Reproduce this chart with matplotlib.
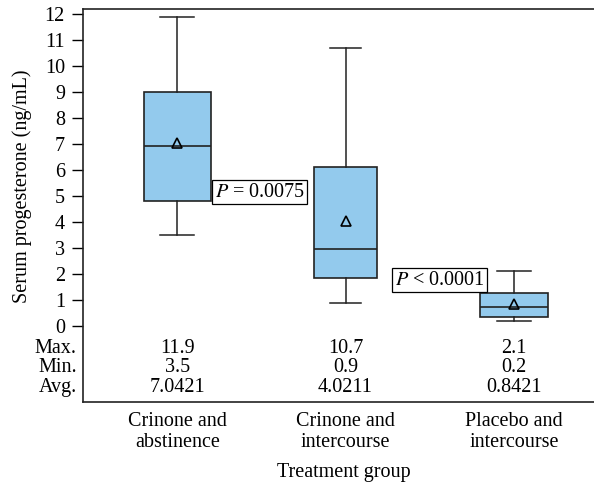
import numpy as np
import matplotlib
matplotlib.use("Agg")
import matplotlib.pyplot as plt

plt.rcParams["font.family"] = ["Liberation Serif", "DejaVu Serif"]
plt.rcParams["mathtext.fontset"] = "stix"

# ── data ───────────────────────────────────────────────────────────────────
GROUPS   = ["Crinone and\nabstinence", "Crinone and\nintercourse", "Placebo and\nintercourse"]
WHISLO   = [3.5, 0.9, 0.2]
Q1       = [4.8, 1.83, 0.35]
MEDIAN   = [6.93, 2.95, 0.72]
Q3       = [9.0, 6.1, 1.27]
WHISHI   = [11.9, 10.7, 2.1]
AVG      = [7.0421, 4.0211, 0.8421]
P_LABELS = ["$P$ = 0.0075", "$P$ < 0.0001"]
P_POS    = [(1.49, 5.15), (2.56, 1.77)]   # between groups

BOX_FC = "#93caed"
FS = 14.5

fig = plt.figure(figsize=(5.94, 4.86), dpi=100)
ax = fig.add_axes([0.1397, 0.1728, 0.8603, 0.8087])

stats = []
for i, name in enumerate(GROUPS):
    stats.append(dict(label=name, whislo=WHISLO[i], q1=Q1[i], med=MEDIAN[i],
                      q3=Q3[i], whishi=WHISHI[i], mean=AVG[i], fliers=[]))

pos = np.arange(1, len(GROUPS) + 1)
ax.bxp(stats, positions=pos, widths=[0.40, 0.37, 0.40], patch_artist=True,
       showmeans=True, showfliers=False,
       boxprops=dict(facecolor=BOX_FC, edgecolor="#222222", linewidth=1.2),
       medianprops=dict(color="#222222", linewidth=1.2),
       whiskerprops=dict(color="#222222", linewidth=1.1),
       capprops=dict(color="#222222", linewidth=1.1),
       meanprops=dict(marker="^", markerfacecolor="none", markeredgecolor="black",
                      markersize=6.5, markeredgewidth=1.2))

# p-value boxes
for lbl, (x, y) in zip(P_LABELS, P_POS):
    ax.text(x, y, lbl, ha="center", va="center", fontsize=FS,
            bbox=dict(boxstyle="square,pad=0.12", fc="white", ec="black", lw=0.9))

# summary rows under the boxes
rows = [("Max.", [f"{v:g}" for v in WHISHI], -0.85),
        ("Min.", [f"{v:g}" for v in WHISLO], -1.6),
        ("Avg.", [f"{v:.4f}" for v in AVG], -2.35)]
for name, vals, y in rows:
    ax.text(-0.012, y, name, transform=ax.get_yaxis_transform(),
            ha="right", va="center", fontsize=FS)
    for x, v in zip(pos, vals):
        ax.text(x, y, v, ha="center", va="center", fontsize=FS)

ax.set_xlim(0.44, 3.476)
ax.set_ylim(-2.92, 12.19)
ax.set_yticks(range(0, 13))
ax.tick_params(axis="y", direction="out", length=8, width=1, labelsize=FS, pad=5)
ax.tick_params(axis="x", length=0, labelsize=FS, pad=7)
ax.set_xticks(pos)
ax.set_xticklabels(GROUPS, linespacing=1.15)
ax.spines["right"].set_visible(False)
for s in ("left", "top", "bottom"):
    ax.spines[s].set_linewidth(1.2)
    ax.spines[s].set_color("#222222")

ax.set_xlabel("Treatment group", fontsize=FS)
ax.xaxis.set_label_coords(0.51, -0.155)
ax.set_ylabel("Serum progesterone (ng/mL)", fontsize=FS)
ax.yaxis.set_label_coords(-0.099, 0.55)

fig.savefig("out.png", dpi=100, facecolor="white")
